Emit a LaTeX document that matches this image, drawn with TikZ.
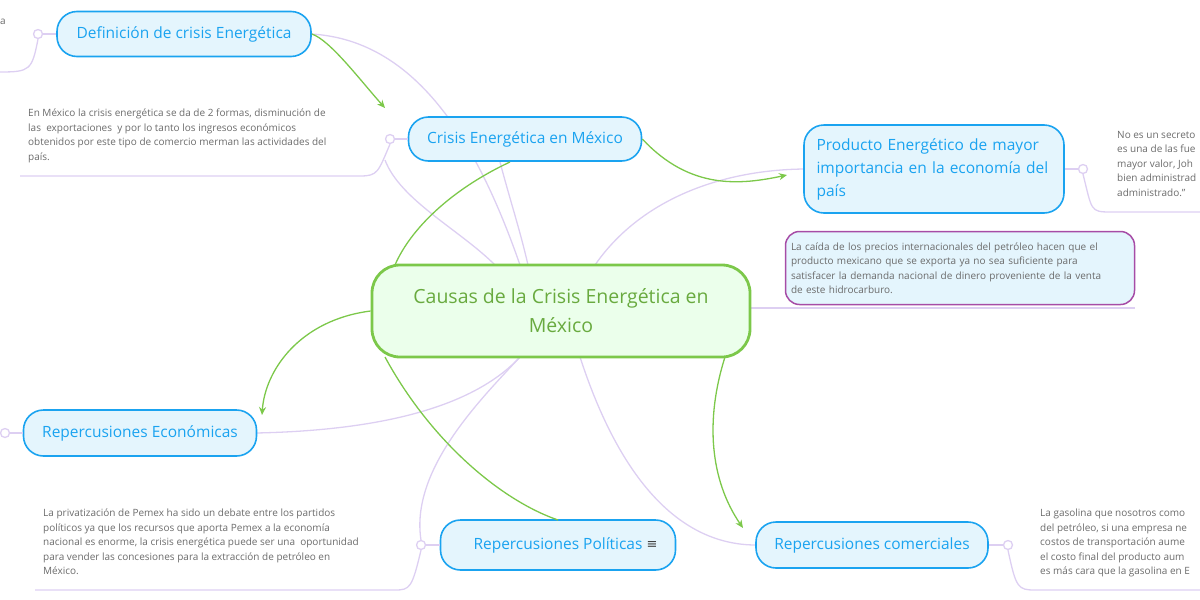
\documentclass[tikz,border=0pt]{standalone}
\usepackage{fontspec}
\setmainfont{Open Sans}
\newfontfamily\djfont{DejaVu Sans}
\usetikzlibrary{arrows.meta}
\definecolor{lav}{HTML}{DDCFF2}
\definecolor{gr}{HTML}{7CC84A}
\definecolor{bl}{HTML}{1AA3F0}
\definecolor{blf}{HTML}{E4F5FD}
\definecolor{txt}{HTML}{6B6B6B}
\tikzset{
 topic/.style={draw=bl,line width=1.6pt,fill=blf,rounded corners=20pt,text=bl,font=\fontsize{15.5}{20}\selectfont,inner sep=0pt},
 note/.style={text=txt,font=\fontsize{10}{14.5}\selectfont,align=left,anchor=north west,inner sep=0pt},
 lv/.style={draw=lav,line width=1.3pt},
 ga/.style={draw=gr,line width=1.3pt,-{Stealth[length=8pt,width=7pt]}},
 gl/.style={draw=gr,line width=1.3pt},
 knob/.style={circle,draw=lav,line width=1.3pt,fill=white,minimum size=9pt,inner sep=0pt},
}
\begin{document}
\begin{tikzpicture}[x=1pt,y=-1pt]
\useasboundingbox (0,0) rectangle (1200,600);
% lavender links (behind)
\draw[lv] (311,34) .. controls (420,40) and (480,150) .. (520,265);
\draw[lv] (385,160) .. controls (400,200) and (460,230) .. (495,265);
\draw[lv] (500,162) .. controls (510,200) and (520,230) .. (528,265);
\draw[lv] (595,265) .. controls (640,200) and (720,170) .. (804,169);
\draw[lv] (750,308) -- (1135,308);
\draw[lv] (256,433) .. controls (400,430) and (480,400) .. (520,357);
\draw[lv] (421,540) .. controls (410,470) and (480,400) .. (520,357);
\draw[lv] (580,357) .. controls (620,480) and (680,545) .. (756,545);
% nodes
\node[draw=gr,line width=2.8pt,fill=green!8!white,rounded corners=28pt,minimum width=378pt,minimum height=92pt,text=gr!85!black,align=center,font=\fontsize{19.5}{29}\selectfont] (c) at (561,311) {Causas de la Crisis Energética en\\México};
\node[topic,minimum width=254pt,minimum height=45pt] (def) at (184,34) {Definición de crisis Energética};
\node[topic,minimum width=233pt,minimum height=44pt] (cri) at (525,139) {Crisis Energética en México};
\node[topic,minimum width=260pt,minimum height=88pt,align=left,text width=235pt,font=\fontsize{15.5}{23}\selectfont] (pro) at (934,169) {Producto Energético de mayor\\importancia en la economía del\\país};
\node[draw=violet!70!white,line width=1.5pt,fill=blf,rounded corners=14pt,minimum width=349pt,minimum height=73pt,text=txt,align=left,text width=338pt,font=\fontsize{10}{14.5}\selectfont,inner sep=4pt] (pur) at (960,268) {La caída de los precios internacionales del petróleo hacen que el\\producto mexicano que se exporta ya no sea suficiente para\\satisfacer la demanda nacional de dinero proveniente de la venta\\de este hidrocarburo.};
\node[topic,minimum width=233pt,minimum height=46pt] (eco) at (140,433) {Repercusiones Económicas};
\node[topic,minimum width=235pt,minimum height=50pt] (pol) at (558,545) {Repercusiones Políticas\hspace{34pt}};
\node[text=black!75,font=\djfont\fontsize{13}{13}\selectfont] (ico) at (652,545) {≡};
\node[topic,minimum width=232pt,minimum height=46pt] (com) at (872,545) {Repercusiones comerciales};
% notes
\node[note] (n0) at (0,19) {a};
\node[note] (n1) at (28,109) {En México la crisis energética se da de 2 formas, disminución de\\las\ \ exportaciones\ \ y por lo tanto los ingresos económicos\\obtenidos por este tipo de comercio merman las actividades del\\país.};
\node[note] (n2) at (1117,131) {No es un secreto\\es una de las fue\\mayor valor, Joh\\bien administrad\\administrado."};
\node[note] (n3) at (43,509) {La privatización de Pemex ha sido un debate entre los partidos\\políticos ya que los recursos que aporta Pemex a la economía\\nacional es enorme, la crisis energética puede ser una\ \ oportunidad\\para vender las concesiones para la extracción de petróleo en\\México.};
\node[note] (n4) at (1040,509) {La gasolina que nosotros como\\del petróleo, si una empresa ne\\costos de transportación aume\\el costo final del producto aum\\es más cara que la gasolina en E};
% note links
\node[knob] (k1) at (38,34) {};
\draw[lv] (k1) -- (def.west);
\draw[lv] (k1.south) .. controls (32,70) and (30,72) .. (0,72);
\node[knob] (k2) at (390,139) {};
\draw[lv] (k2) -- (cri.west);
\draw[lv] (k2.south) .. controls (378,172) and (378,176) .. (360,176) -- (20,176);
\node[knob] (k3) at (1083,169) {};
\draw[lv] (k3) -- (pro.east);
\draw[lv] (k3.south) .. controls (1092,210) and (1090,212) .. (1110,212) -- (1200,212);
\node[knob] (k4) at (5,433) {};
\draw[lv] (k4) -- (eco.west);
\node[knob] (k5) at (421,545) {};
\draw[lv] (k5) -- (pol.west);
\draw[lv] (k5.south) .. controls (412,588) and (410,590) .. (395,590) -- (35,590);
\node[knob] (k6) at (1008,545) {};
\draw[lv] (k6) -- (com.east);
\draw[lv] (k6.south) .. controls (1016,588) and (1018,590) .. (1035,590) -- (1200,590);
% green relations
\draw[ga] (def.east) .. controls (330,40) and (360,80) .. (385,108);
\draw[ga] (cri.east) .. controls (690,190) and (740,185) .. (787,175);
\draw[ga] (c.west) .. controls (300,320) and (265,370) .. (262,415);
\draw[gl] (510,162) .. controls (450,190) and (410,230) .. (395,265);
\draw[gl] (385,357) .. controls (430,440) and (500,500) .. (558,520);
\draw[ga] (725,357) .. controls (705,420) and (710,480) .. (743,528);
\end{tikzpicture}
\end{document}
